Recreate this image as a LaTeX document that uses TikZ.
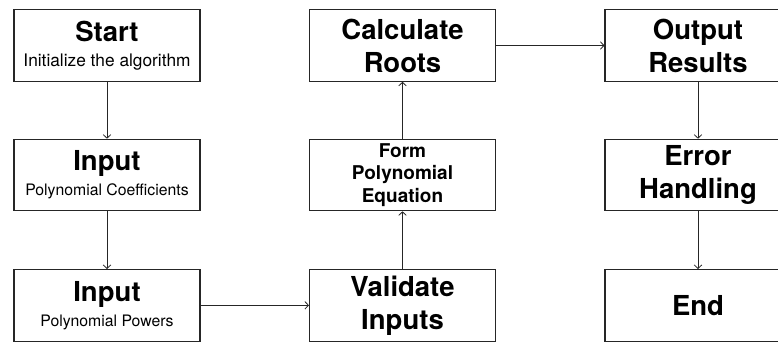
\documentclass[tikz,border=0pt]{standalone}
\usepackage{fontspec}
\setmainfont{TeX Gyre Heros}
\usetikzlibrary{arrows.meta}

\tikzset{
  stepbox/.style={draw=black!85, line width=1.1pt, minimum width=186pt,
    minimum height=71.5pt, inner sep=0pt, align=center, fill=white},
  big/.style={font=\fontsize{27.5}{33}\selectfont\bfseries},
  mid/.style={font=\fontsize{19}{22.5}\selectfont\bfseries},
  flow/.style={draw=black!85, line width=0.8pt,
    -{Straight Barb[length=3.5pt,width=7.5pt,line width=0.8pt]}}
}
\newcommand{\subline}[1]{{\fontsize{17.3}{24}\mdseries\selectfont #1}}
\newcommand{\smallsub}[1]{{\fontsize{15.8}{24}\mdseries\selectfont #1}}

\begin{document}
\begin{tikzpicture}[x=1pt, y=-1pt]
  \clip (0,0) rectangle (778,341);
  \fill[white] (0,0) rectangle (778,341);

  % left column
  \node[stepbox, big] (start) at (107,45.5) {Start\\[-8.5pt]\subline{Initialize the algorithm}};
  \node[stepbox, big] (coef)  at (107,175) {Input\\[-8pt]\smallsub{Polynomial Coefficients}};
  \node[stepbox, big] (pow)   at (107,305.3) {Input\\[-8pt]\smallsub{Polynomial Powers}};

  % middle column
  \node[stepbox, big] (calc)  at (402.5,45.5) {Calculate\\Roots};
  \node[stepbox, mid] (form)  at (402.5,175) {Form\\Polynomial\\Equation};
  \node[stepbox, big] (valid) at (402.5,305.3) {Validate\\Inputs};

  % right column
  \node[stepbox, big] (out)   at (698,45.5) {Output\\Results};
  \node[stepbox, big] (err)   at (698,175) {Error\\Handling};
  \node[stepbox, big] (fin)   at (698,305.3) {End};

  % connectors
  \draw[flow] (start) -- (coef);
  \draw[flow] (coef) -- (pow);
  \draw[flow] (pow) -- (valid);
  \draw[flow] (valid) -- (form);
  \draw[flow] (form) -- (calc);
  \draw[flow] (calc) -- (out);
  \draw[flow] (out) -- (err);
  \draw[flow] (err) -- (fin);
\end{tikzpicture}
\end{document}
